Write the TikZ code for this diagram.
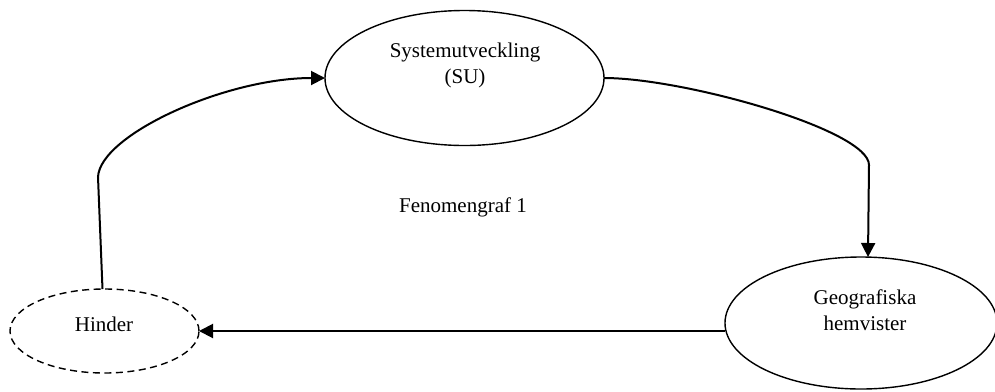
\documentclass[tikz,border=0pt]{standalone}
\usepackage{fontspec}
\setmainfont{Liberation Serif}
\usetikzlibrary{shapes.geometric,arrows.meta}

\begin{document}
\begin{tikzpicture}[x=1bp,y=-1bp,
  bubble/.style={ellipse,draw,line width=1.4bp,inner sep=0pt,outer sep=0pt},
  lbl/.style={align=center,inner sep=0pt,font=\fontsize{21bp}{26bp}\selectfont},
  flow/.style={line width=2bp,-{Triangle[length=14bp,width=14bp]}}]
  \useasboundingbox (0,0) rectangle (995,391);

  % the three states
  \node[bubble,minimum width=279bp,minimum height=135bp] (sys) at (464.5,78) {};
  \node[bubble,minimum width=272bp,minimum height=132bp] (geo) at (861,323) {};
  \node[bubble,dashed,dash pattern=on 7bp off 4.5bp,minimum width=189bp,minimum height=84bp] (hin) at (104.5,331) {};

  % their labels
  \node[lbl] (syst) at (465,65) {Systemutveckling\\(SU)};
  \node[lbl] (geot) at (865,310) {Geografiska\\hemvister};
  \node[lbl] (hint) at (104,324) {Hinder};
  \node[lbl] (title) at (463,207) {Fenomengraf 1};

  % bend points of the connectors
  \coordinate (bendL) at (98,177);
  \coordinate (bendR) at (869,165);

  % connectors
  \draw[flow] (sys.east) .. controls (684,78) and (869,130) .. (bendR)
              -- ([xshift=7bp]geo.north);
  \draw[flow] (geo.west |- hin.east) -- (hin.east);
  \draw[flow] ([xshift=-2bp]hin.north) -- (bendL)
              .. controls (100,135) and (225,78) .. (sys.west);
\end{tikzpicture}
\end{document}
